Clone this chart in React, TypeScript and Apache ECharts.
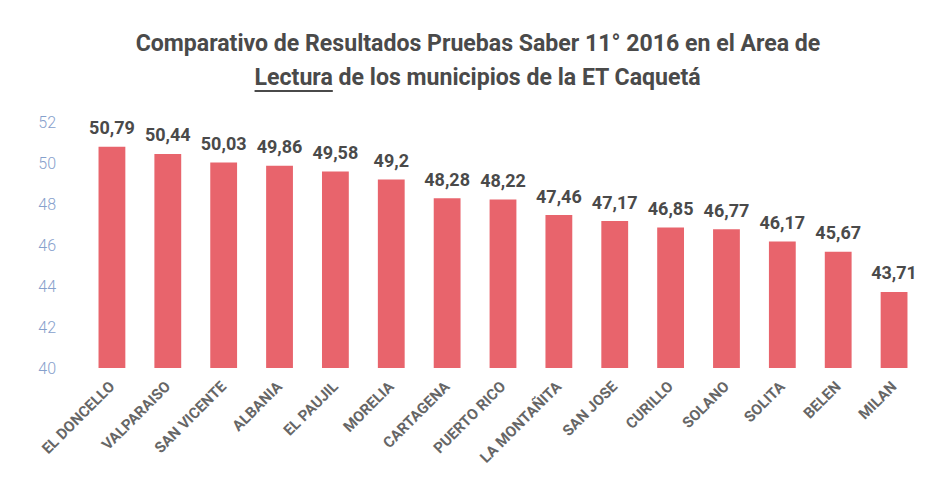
import React, { useEffect, useRef } from "react";
import * as echarts from "echarts";

const categories = [
  "EL DONCELLO", "VALPARAISO", "SAN VICENTE", "ALBANIA", "EL PAUJIL", "MORELIA",
  "CARTAGENA", "PUERTO RICO", "LA MONTAÑITA", "SAN JOSE", "CURILLO", "SOLANO",
  "SOLITA", "BELEN", "MILAN",
];
const values = [50.79, 50.44, 50.03, 49.86, 49.58, 49.2, 48.28, 48.22, 47.46, 47.17, 46.85, 46.77, 46.17, 45.67, 43.71];
const titleLine1 = "Comparativo de Resultados Pruebas Saber 11° 2016 en el Area de";
const titleLine2a = "Lectura";
const titleLine2b = " de los municipios de la ET Caquetá";

const FONT = "Roboto, 'Noto Sans', sans-serif";
const TITLE_SIZE = 24;
const TITLE_COLOR = "#4a4a4a";

export default function App() {
  const ref = useRef<HTMLDivElement>(null);
  useEffect(() => {
    document.body.style.margin = "0";
    const chart = echarts.init(ref.current!, null, { renderer: "svg" });

    const ctx = document.createElement("canvas").getContext("2d")!;
    ctx.font = `bold ${TITLE_SIZE}px ${FONT}`;
    const w1 = ctx.measureText(titleLine1).width;
    const wa = ctx.measureText(titleLine2a).width;
    const wb = ctx.measureText(titleLine2b).width;
    const targetW = 685;
    const sx = targetW / w1;
    const line2Start = -(wa + wb) / 2;

    const titleStyle = {
      fontFamily: FONT,
      fontWeight: "bold",
      fontSize: TITLE_SIZE,
      fill: TITLE_COLOR,
      textVerticalAlign: "top",
    };

    chart.setOption({
      animation: false,
      backgroundColor: "#ffffff",
      graphic: [
        {
          type: "group",
          x: 478,
          y: 31,
          scaleX: sx,
          children: [
            { type: "text", x: 0, y: 0, style: { ...titleStyle, text: titleLine1, textAlign: "center" } },
            { type: "text", x: line2Start, y: 34, style: { ...titleStyle, text: titleLine2a, textAlign: "left" } },
            { type: "text", x: line2Start + wa, y: 34, style: { ...titleStyle, text: titleLine2b, textAlign: "left" } },
            {
              type: "line",
              shape: { x1: line2Start, y1: 60, x2: line2Start + wa, y2: 60 },
              style: { stroke: TITLE_COLOR, lineWidth: 2 },
            },
          ],
        },
      ],
      grid: { left: 84, right: 13, top: 122, bottom: 117 },
      xAxis: {
        type: "category",
        data: categories,
        axisLine: { show: false },
        axisTick: { show: false },
        axisLabel: {
          interval: 0,
          rotate: 45,
          margin: 16,
          fontFamily: FONT,
          fontWeight: "bold",
          fontSize: 15,
          color: "#666666",
        },
      },
      yAxis: {
        type: "value",
        min: 40,
        max: 52,
        interval: 2,
        axisLine: { show: false },
        axisTick: { show: false },
        splitLine: { show: false },
        axisLabel: {
          fontFamily: FONT,
          fontWeight: 300,
          fontSize: 16,
          color: "#86a0cc",
          margin: 28,
        },
      },
      series: [
        {
          type: "bar",
          data: values,
          barWidth: "48%",
          itemStyle: { color: "#e8646c" },
          label: {
            show: true,
            position: "top",
            distance: 10,
            fontFamily: FONT,
            fontWeight: "bold",
            fontSize: 18,
            color: "#4a4a4a",
            formatter: (p: any) => String(p.value).replace(".", ","),
          },
        },
      ],
    });
    return () => chart.dispose();
  }, []);
  return <div ref={ref} style={{ width: 935, height: 485 }} />;
}
